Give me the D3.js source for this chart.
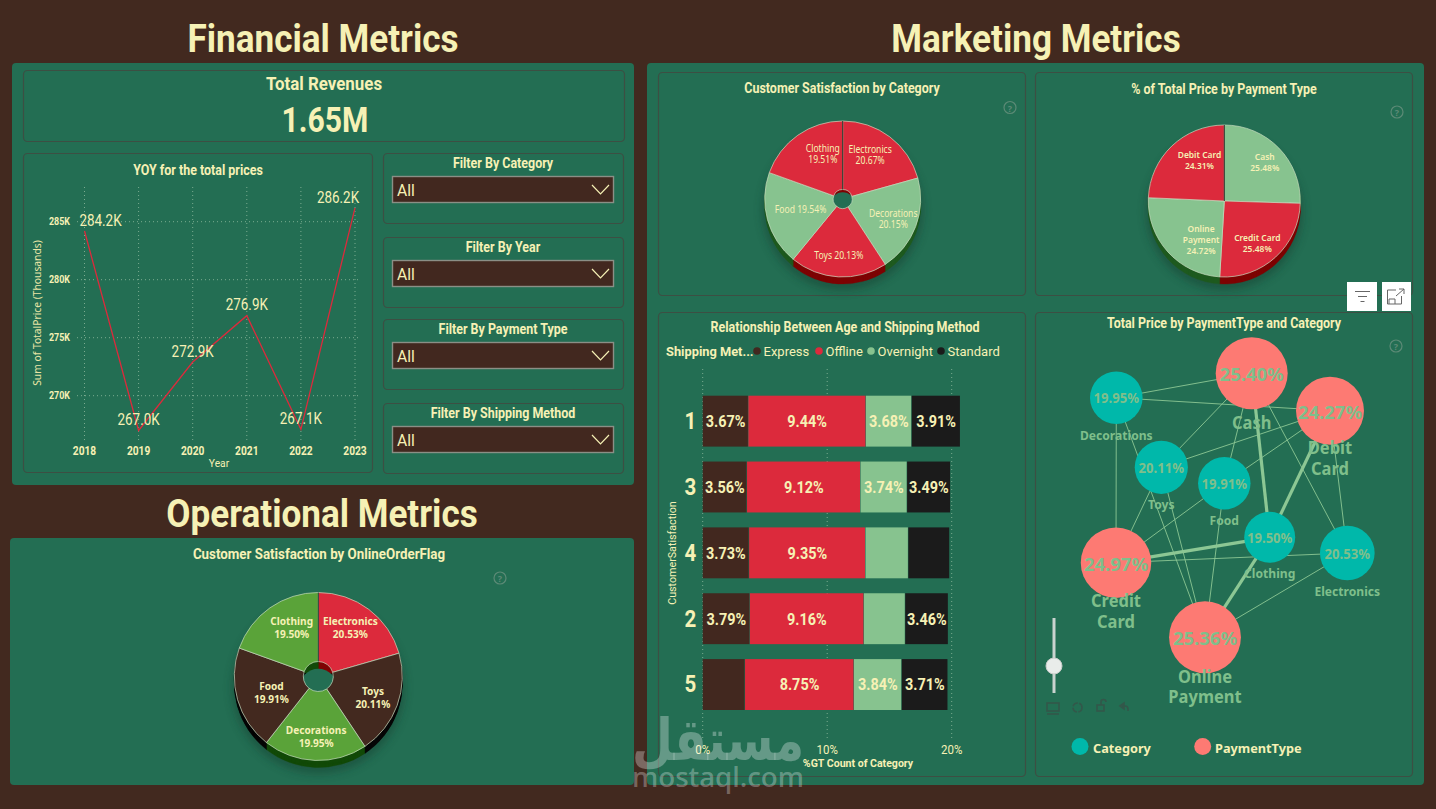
<!DOCTYPE html>
<html>
<head>
<meta charset="utf-8">
<script src="https://cdn.jsdelivr.net/npm/d3@7/dist/d3.min.js"></script>
<style>
  html, body { margin: 0; padding: 0; background: #42291f; overflow: hidden; }
  svg { display: block; }
  text { font-family: "Roboto", sans-serif; }
</style>
</head>
<body>
<svg id="board" width="1436" height="809"></svg>
<script>
// ---- Data ----
const years = [2018, 2019, 2020, 2021, 2022, 2023];
const yearTotals = [284.2, 267.0, 272.9, 276.9, 267.1, 286.2];
const priceTicks = [270, 275, 280, 285];

const filterNames = ["Filter By Category", "Filter By Year", "Filter By Payment Type", "Filter By Shipping Method"];

const satisfactionCategories = ["Electronics", "Decorations", "Toys", "Food", "Clothing"];
const satisfactionShares = [20.67, 20.15, 20.13, 19.54, 19.51];

const paymentTypes = ["Cash", "Credit Card", "Online Payment", "Debit Card"];
const paymentShares = [25.48, 25.48, 24.72, 24.31];

const onlineCategories = ["Electronics", "Toys", "Decorations", "Food", "Clothing"];
const onlineShares = [20.53, 20.11, 19.95, 19.91, 19.50];

const shippingMethods = ["Express", "Offline", "Overnight", "Standard"];
const satisfactionLevels = ["1", "3", "4", "2", "5"];
const expressShares = [3.67, 3.56, 3.73, 3.79, 3.40];
const offlineShares = [9.44, 9.12, 9.35, 9.16, 8.75];
const overnightShares = [3.68, 3.74, 3.44, 3.32, 3.84];
const standardShares = [3.91, 3.49, 3.32, 3.46, 3.71];
const shareTicks = [0, 10, 20];

const graphCategories = ["Decorations", "Toys", "Food", "Clothing", "Electronics"];
const graphCategoryShares = [19.95, 20.11, 19.91, 19.50, 20.53];
const graphPayments = ["Cash", "Debit Card", "Credit Card", "Online Payment"];
const graphPaymentShares = [25.40, 24.27, 24.97, 25.36];
// Heavier edges belong to the clothing category
const heavyEdgeCategory = "Clothing";

// ---- Palette ----
const ink = "#f6f1b5", panel = "#236e53", rim = "#3c4f43", brown = "#42281f";
const red = "#dc2a3c", mint = "#87c38f", leaf = "#5aa339", black = "#1b1b1b";
const teal = "#00b8aa", coral = "#fd7a73", graphInk = "#7fbf8b";

const svg = d3.select("#board");
const defs = svg.append("defs");
defs.append("filter").attr("id", "soft").attr("x", "-30%").attr("y", "-30%").attr("width", "160%").attr("height", "160%")
  .append("feGaussianBlur").attr("stdDeviation", 5);

// Text helper: Roboto is narrowed horizontally to give the condensed look of the dashboard type
function label(g, x, y, str, size, opt = {}) {
  const sx = opt.sx || (opt.family ? 1 : .89);
  const rot = opt.rotate ? ` rotate(${opt.rotate})` : "";
  return g.append("text")
    .attr("transform", `translate(${x},${y})${rot} scale(${sx},1)`)
    .text(str)
    .attr("font-size", size)
    .attr("font-weight", opt.weight || "bold")
    .attr("text-anchor", opt.anchor || "middle")
    .attr("dominant-baseline", "central")
    .attr("fill", opt.fill || ink)
    .style("font-family", opt.family || null);
}
function box(x, y, w, h, opt = {}) {
  return svg.append("rect").attr("x", x).attr("y", y).attr("width", w).attr("height", h)
    .attr("rx", opt.r === undefined ? 4 : opt.r)
    .attr("fill", opt.fill || "none")
    .attr("stroke", opt.stroke || "none")
    .attr("stroke-width", opt.sw || 1);
}
function card(x, y, w, h) { return box(x + .5, y + .5, w, h, { stroke: rim, sw: 1.2 }); }
function helpIcon(x, y) {
  svg.append("circle").attr("cx", x).attr("cy", y).attr("r", 6).attr("fill", "none").attr("stroke", "#5c8a76").attr("stroke-width", 1.2);
  label(svg, x, y + .5, "?", 9, { fill: "#5c8a76", family: "Open Sans" });
}

// ---- Section backgrounds and headings ----
box(12, 63, 622, 422, { fill: panel });
box(10, 538, 624, 247, { fill: panel });
box(647, 63, 777, 722, { fill: panel });

label(svg, 323, 39, "Financial Metrics", 39, { sx: .9 });
label(svg, 322, 514, "Operational Metrics", 39, { sx: .9 });
label(svg, 1036, 39, "Marketing Metrics", 39, { sx: .9 });

// ---- Total revenue card ----
card(23, 70, 601, 71);
label(svg, 324, 83, "Total Revenues", 19);
label(svg, 325, 120, "1.65M", 35, { sx: .86 });

// ---- Yearly totals line chart ----
card(23, 153, 349, 319);
label(svg, 198, 170, "YOY for the total prices", 14);
const lineX = d3.scalePoint().domain(years).range([84.5, 355]);
const lineY = d3.scaleLinear().domain([270, 285]).range([395.7, 221.7]);
const lineG = svg.append("g");
const gridStyle = sel => sel.attr("stroke", "#a9cdb0").attr("stroke-opacity", .65).attr("stroke-dasharray", "1 3").attr("stroke-width", 1);
lineG.selectAll(".gx").data(years).join("line").attr("x1", d => lineX(d)).attr("x2", d => lineX(d))
  .attr("y1", 187).attr("y2", 440).call(gridStyle);
lineG.selectAll(".gy").data(priceTicks).join("line").attr("x1", 77).attr("x2", 361)
  .attr("y1", d => lineY(d)).attr("y2", d => lineY(d)).call(gridStyle);
priceTicks.forEach(t => label(lineG, 70, lineY(t), t + "K", 10.5, { anchor: "end", sx: .85 }));
years.forEach(y => label(lineG, lineX(y), 451, y, 12, { sx: .85 }));
label(lineG, 219, 463, "Year", 11.5, { weight: "normal" });
label(lineG, 37, 313, "Sum of TotalPrice (Thousands)", 10.5, { weight: "normal", family: "Noto Sans", rotate: -90, fill: "#e9e5a5", sx: .98 });
const linePts = years.map((y, i) => [lineX(y), lineY(yearTotals[i])]);
lineG.append("path").attr("d", d3.line()(linePts)).attr("fill", "none").attr("stroke", red).attr("stroke-width", 1.3);
// Value labels sit above each point, except the first which is nudged right
const lineLabelOffset = [[16, -10], [0, -11], [0, -10], [0, -11], [0, -11], [-17, -10]];
yearTotals.forEach((v, i) => label(lineG, linePts[i][0] + lineLabelOffset[i][0], linePts[i][1] + lineLabelOffset[i][1], v.toFixed(1) + "K", 16, { weight: "normal", sx: .84 }));

// ---- Slicers ----
const slicerTops = [153, 237, 319, 403];
filterNames.forEach((name, i) => {
  const top = slicerTops[i];
  card(383, top, 240, 70);
  label(svg, 503, top + 10, name, 14);
  box(392.5, top + 23.5, 221, 26, { fill: brown, stroke: "#8b8f86", sw: 1.4, r: 0 });
  label(svg, 397, top + 37, "All", 16.5, { anchor: "start", weight: "normal", sx: .95 });
  svg.append("path").attr("d", d3.line()([[592, top + 32], [600.5, top + 41], [609, top + 32]]))
    .attr("fill", "none").attr("stroke", ink).attr("stroke-width", 1.2);
});

// ---- Extruded pie used by all three round charts ----
function pie3d(cfg) {
  const g = svg.append("g").attr("transform", `translate(${cfg.cx},${cfg.cy})`);
  const arcs = d3.pie().value(d => d.value).sort(null)(cfg.rows);
  // soft ground shadow
  g.append("ellipse").attr("cy", cfg.depth + 4).attr("rx", cfg.r + 2).attr("ry", cfg.r + 2)
    .attr("fill", "#12382a").attr("opacity", .45).attr("filter", "url(#soft)");
  const side = d3.arc().innerRadius(0).outerRadius(cfg.r);
  d3.range(cfg.depth, 0, -1).forEach(step => {
    g.append("g").attr("transform", `translate(0,${step})`).selectAll("path").data(arcs).join("path")
      .attr("d", side).attr("fill", d => d.data.dark).attr("stroke", d => d.data.dark).attr("stroke-width", .4);
  });
  if (cfg.hole) {
    g.append("circle").attr("cy", cfg.holeDrop).attr("r", cfg.hole * 1.25).attr("fill", panel);
  }
  const face = d3.arc().innerRadius(cfg.hole).outerRadius(cfg.r);
  g.selectAll(".face").data(arcs).join("path")
    .attr("d", face).attr("fill", d => d.data.fill)
    .attr("stroke", d => d.data.edge || "#c7dcc0").attr("stroke-width", .7);
  // the seam at twelve o'clock reads darker than the others
  g.append("line").attr("y1", -cfg.r).attr("y2", -cfg.hole).attr("stroke", "#12231b").attr("stroke-width", .9);
  cfg.labels.forEach(l => {
    const a = arcs[l.i];
    const [x, y] = d3.arc().innerRadius(l.rad).outerRadius(l.rad).centroid(a);
    const val = a.data.value.toFixed(2) + "%";
    const lines = l.lines.concat(l.inline ? [] : [val]);
    const lh = cfg.lineHeight;
    lines.forEach((t, k) => {
      const txt = l.inline && k === lines.length - 1 ? t + " " + val : t;
      label(g, x + (l.dx || 0), y + (l.dy || 0) + (k - (lines.length - 1) / 2) * lh, txt, cfg.fontSize,
        { family: "Noto Sans", weight: cfg.fontWeight, sx: cfg.sx });
    });
  });
}

const swatch = {
  red: { fill: red, dark: "#7d0303" },
  mint: { fill: mint, dark: "#1e5a1f" },
  leaf: { fill: leaf, dark: "#124a08" },
  brown: { fill: "#43291f", dark: "#050505" }
};
const rowsOf = (names, vals, tones) => names.map((n, i) => ({ name: n, value: vals[i], ...swatch[tones[i]] }));

// Satisfaction by category
card(658, 72, 367, 223);
label(svg, 842, 88, "Customer Satisfaction by Category", 14);
helpIcon(1010, 107.5);
pie3d({
  cx: 842.7, cy: 199, r: 78, depth: 7, hole: 9.5, holeDrop: 5, fontSize: 10, fontWeight: 400, lineHeight: 11, sx: .86,
  rows: rowsOf(satisfactionCategories, satisfactionShares, ["red", "mint", "red", "mint", "red"]),
  labels: [
    { i: 0, rad: 52, lines: ["Electronics"], dx: -4, dy: -3 },
    { i: 1, rad: 54, lines: ["Decorations"], dx: 0, dy: 1 },
    { i: 2, rad: 52, lines: ["Toys"], inline: true, dx: -1, dy: 4 },
    { i: 3, rad: 52, lines: ["Food"], inline: true, dx: 8, dy: -4 },
    { i: 4, rad: 52, lines: ["Clothing"], dx: 10, dy: -2.5 }
  ]
});

// Share of price by payment type
card(1035, 72, 377, 223);
label(svg, 1224, 89, "% of Total Price by Payment Type", 14);
helpIcon(1397, 112);
pie3d({
  cx: 1224.3, cy: 201, r: 76, depth: 7, hole: 0, holeDrop: 0, fontSize: 9.5, fontWeight: 600, lineHeight: 11, sx: .89,
  rows: rowsOf(paymentTypes, paymentShares, ["mint", "red", "mint", "red"]),
  labels: [
    { i: 0, rad: 48, lines: ["Cash"], dx: 6, dy: -6 },
    { i: 1, rad: 46, lines: ["Credit Card"], dx: 2, dy: 8 },
    { i: 2, rad: 46, lines: ["Online", "Payment"], dx: 11, dy: 7.5 },
    { i: 3, rad: 46, lines: ["Debit Card"], dx: 7, dy: -7.5 }
  ]
});

// Satisfaction by online flag
label(svg, 319, 554, "Customer Satisfaction by OnlineOrderFlag", 14.5, { sx: .92 });
helpIcon(500, 578);
pie3d({
  cx: 318.3, cy: 676.5, r: 84, depth: 7, hole: 15, holeDrop: 11, fontSize: 11, fontWeight: 700, lineHeight: 13, sx: .92,
  rows: rowsOf(onlineCategories, onlineShares, ["red", "brown", "leaf", "brown", "leaf"]),
  labels: [
    { i: 0, rad: 55, lines: ["Electronics"], dx: -1, dy: -5.5 },
    { i: 1, rad: 55, lines: ["Toys"], dx: 3, dy: 2 },
    { i: 2, rad: 55, lines: ["Decorations"], dx: 0, dy: 5 },
    { i: 3, rad: 55, lines: ["Food"], dx: 6, dy: 1 },
    { i: 4, rad: 55, lines: ["Clothing"], dx: 5, dy: -4.5 }
  ]
});

// ---- Stacked bars by satisfaction level ----
card(658, 312, 367, 464);
label(svg, 845, 327, "Relationship Between Age and Shipping Method", 14);
const shippingSeries = [expressShares, offlineShares, overnightShares, standardShares];
const shippingColors = [brown, red, mint, black];
label(svg, 666, 351, "Shipping Met...", 13.5, { anchor: "start", sx: .95 });
const legendSlots = [757, 819, 871, 941];
shippingMethods.forEach((m, i) => {
  svg.append("circle").attr("cx", legendSlots[i]).attr("cy", 351).attr("r", 3.8).attr("fill", shippingColors[i]);
  label(svg, legendSlots[i] + 6.5, 351, m, 13, { anchor: "start", weight: "normal", sx: 1 });
});
const barX = d3.scaleLinear().domain([0, 20]).range([702.7, 951.7]);
const barY = d3.scaleBand().domain(satisfactionLevels).range([395.7, 710]).paddingInner(.227).paddingOuter(0);
shareTicks.forEach(t => {
  svg.append("line").attr("x1", barX(t)).attr("x2", barX(t)).attr("y1", 369).attr("y2", 740).call(gridStyle);
  label(svg, barX(t), 750, t + "%", 12.5, { weight: "normal", sx: .92 });
});
const stackRows = satisfactionLevels.map((lvl, i) => {
  const row = { level: lvl };
  shippingMethods.forEach((m, s) => row[m] = shippingSeries[s][i]);
  return row;
});
const stacked = d3.stack().keys(shippingMethods)(stackRows);
// Values too narrow for their label stay unlabelled
const minLabelled = 3.45;
stacked.forEach((layer, s) => {
  const g = svg.append("g");
  g.selectAll("rect").data(layer).join("rect")
    .attr("x", d => barX(d[0])).attr("y", d => barY(d.data.level))
    .attr("width", d => barX(d[1]) - barX(d[0]) - .5).attr("height", barY.bandwidth())
    .attr("fill", shippingColors[s]);
  layer.forEach(d => {
    const v = d[1] - d[0];
    if (v >= minLabelled) label(g, (barX(d[0]) + barX(d[1])) / 2, barY(d.data.level) + barY.bandwidth() / 2, v.toFixed(2) + "%", 17, { sx: .85 });
  });
});
satisfactionLevels.forEach(l => label(svg, 690.5, barY(l) + barY.bandwidth() / 2, l, 23));
label(svg, 672.5, 553, "CustomerSatisfaction", 11.5, { weight: "normal", rotate: -90, sx: .93 });
label(svg, 858, 763, "%GT Count of Category", 11.5, { sx: .92 });

// ---- Category / payment network ----
card(1035, 312, 377, 464);
label(svg, 1224, 323, "Total Price by PaymentType and Category", 14);
helpIcon(1396, 346);

const nodeSize = d3.scaleLinear().domain([19.5, 25.4]).range([25.5, 36]);
const categoryNodes = graphCategories.map((n, i) => ({ name: n, value: graphCategoryShares[i], kind: "category" }));
const paymentNodes = graphPayments.map((n, i) => ({ name: n, value: graphPaymentShares[i], kind: "payment" }));
// Resting place of every node once the force layout has settled
const settled = {
  "Decorations": [1116.3, 397.7], "Toys": [1161.3, 467.3], "Food": [1224.3, 483.3], "Clothing": [1269.7, 537.3], "Electronics": [1347.3, 553],
  "Cash": [1251.7, 373.3], "Debit Card": [1330, 410.7], "Credit Card": [1116, 562.7], "Online Payment": [1205, 637.3]
};
const nameLines = { "Debit Card": ["Debit", "Card"], "Credit Card": ["Credit", "Card"], "Online Payment": ["Online", "Payment"] };
const nodes = categoryNodes.concat(paymentNodes);
nodes.forEach(n => { [n.x, n.y] = settled[n.name]; });
const edges = categoryNodes.flatMap(c => paymentNodes.map(p => ({ source: c, target: p, heavy: c.name === heavyEdgeCategory })));
const netG = svg.append("g");
netG.selectAll("line").data(edges).join("line")
  .attr("x1", d => d.source.x).attr("y1", d => d.source.y).attr("x2", d => d.target.x).attr("y2", d => d.target.y)
  .attr("stroke", "#8cc794").attr("stroke-width", d => d.heavy ? 3.2 : .9);
netG.selectAll("circle").data(nodes).join("circle")
  .attr("cx", d => d.x).attr("cy", d => d.y).attr("r", d => nodeSize(d.value))
  .attr("fill", d => d.kind === "category" ? teal : coral);
nodes.forEach(n => {
  const pay = n.kind === "payment", r = nodeSize(n.value);
  label(netG, n.x, n.y + .5, n.value.toFixed(2) + "%", pay ? 18.5 : 13.5, { fill: graphInk, family: "Noto Sans", weight: 700, sx: pay ? 1 : .97 });
  const lines = nameLines[n.name] || [n.name];
  const lh = 20.5, mid = n.y + r + (pay ? 13 : 11);
  lines.forEach((t, k) => label(netG, n.x, mid + (k - (lines.length - 1) / 2) * lh, t, pay ? 17 : 12.5,
    { fill: graphInk, family: "Noto Sans", weight: 700, sx: .97 }));
});

// Zoom slider and tool icons
svg.append("line").attr("x1", 1054).attr("x2", 1054).attr("y1", 618).attr("y2", 693).attr("stroke", "#c9d3cf").attr("stroke-width", 3);
svg.append("circle").attr("cx", 1054).attr("cy", 666).attr("r", 8).attr("fill", "#e9ecea").attr("stroke", "#c8ccc9");
const tool = svg.append("g").attr("fill", "none").attr("stroke", "#33574a").attr("stroke-width", 1.6);
tool.append("rect").attr("x", 1047).attr("y", 703).attr("width", 12).attr("height", 8);
tool.append("path").attr("d", "M1047 714h12");
tool.append("circle").attr("cx", 1077.5).attr("cy", 707.5).attr("r", 4.5).attr("stroke-dasharray", "6 1.5");
tool.append("rect").attr("x", 1097).attr("y", 705).attr("width", 7).attr("height", 6);
tool.append("path").attr("d", "M1101 705v-3a2.500 2.500 0 0 1 5 0");
tool.append("path").attr("d", "M1120 706l4-3v6z M1122 706h3a3 3 0 0 1 3 3v2");

const graphLegend = [["Category", teal, 1080, 1093], ["PaymentType", coral, 1202.7, 1215]];
graphLegend.forEach(([t, c, cx, tx]) => {
  svg.append("circle").attr("cx", cx).attr("cy", 746.5).attr("r", 8.5).attr("fill", c);
  label(svg, tx, 748, t, 13, { anchor: "start", family: "Noto Sans", weight: 700, sx: .98 });
});

// Visual header buttons
box(1347, 282, 30, 29, { fill: "#ffffff", r: 0 });
box(1382, 282, 29, 29, { fill: "#ffffff", r: 0 });
const btn = svg.append("g").attr("fill", "none").attr("stroke", "#666").attr("stroke-width", 1);
btn.append("path").attr("d", "M1355 291.5h15M1358 296.5h9M1360.5 301.5h4");
btn.append("path").attr("d", "M1396 290h-8.500v14h14v-8M1389 304v-5h6v5M1396 296l8-7M1399 289h5v5");

// Site mark over the lower corner
const mark = svg.append("g").attr("fill", "#ffffff").attr("fill-opacity", .3);
mark.append("text").attr("x", 718).attr("y", 760).attr("text-anchor", "middle").attr("font-size", 58).attr("font-weight", "bold")
  .attr("textLength", 172).attr("lengthAdjust", "spacingAndGlyphs").style("font-family", "DejaVu Sans").text("مستقل");
mark.append("text").attr("x", 718).attr("y", 787).attr("text-anchor", "middle").attr("font-size", 27).attr("font-weight", 500)
  .attr("textLength", 172).attr("lengthAdjust", "spacingAndGlyphs").style("font-family", "Noto Sans").text("mostaql.com");
</script>
</body>
</html>
